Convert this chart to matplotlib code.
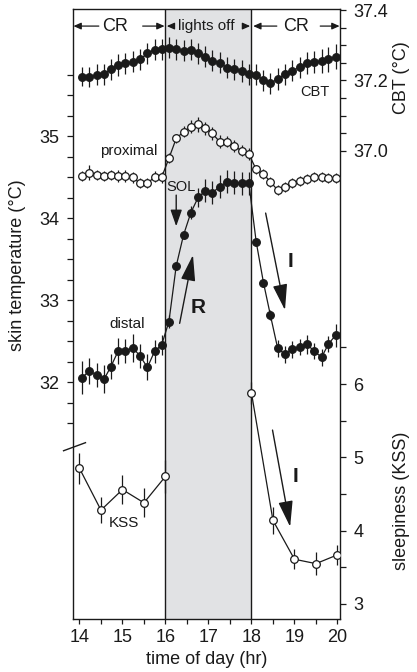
import matplotlib

matplotlib.use("Agg")

import matplotlib.pyplot as plt
from matplotlib.ticker import FixedLocator, NullFormatter

plt.rcParams["font.family"] = ["Liberation Sans", "DejaVu Sans"]

# 10-min bins (hr)
times = [14.06, 14.23, 14.40, 14.57, 14.73, 14.90, 15.07, 15.24, 15.41, 15.58,
         15.75, 15.91, 16.08, 16.25, 16.42, 16.59, 16.76, 16.93, 17.09, 17.26,
         17.43, 17.60, 17.77, 17.94, 18.11, 18.28, 18.44, 18.61, 18.78, 18.95,
         19.12, 19.29, 19.46, 19.63, 19.79, 19.96]

# core body temperature (°C)
cbt = [37.211, 37.209, 37.216, 37.218, 37.232, 37.244, 37.249, 37.253, 37.260, 37.277,
       37.287, 37.288, 37.293, 37.288, 37.285, 37.287, 37.277, 37.268, 37.256, 37.251,
       37.236, 37.232, 37.227, 37.218, 37.216, 37.201, 37.192, 37.204, 37.218, 37.228,
       37.237, 37.249, 37.253, 37.255, 37.260, 37.268]
cbt_err = [0.028, 0.028, 0.03, 0.03, 0.03, 0.03, 0.03, 0.03, 0.03, 0.03,
           0.03, 0.03, 0.03, 0.03, 0.03, 0.03, 0.03, 0.03, 0.03, 0.03,
           0.03, 0.03, 0.03, 0.03, 0.03, 0.03, 0.03, 0.03, 0.03, 0.03,
           0.03, 0.032, 0.032, 0.034, 0.035, 0.035]

# proximal skin temperature (°C)
proximal = [34.512, 34.553, 34.524, 34.512, 34.524, 34.512, 34.512, 34.496, 34.423, 34.423,
            34.504, 34.496, 34.728, 34.971, 35.053, 35.114, 35.142, 35.093, 35.033, 34.931,
            34.931, 34.878, 34.821, 34.780, 34.593, 34.537, 34.443, 34.341, 34.374, 34.423,
            34.455, 34.476, 34.496, 34.496, 34.484, 34.484]
proximal_err = [0.06, 0.09, 0.06, 0.06, 0.06, 0.07, 0.07, 0.07, 0.06, 0.06,
                0.07, 0.07, 0.06, 0.06, 0.07, 0.08, 0.09, 0.08, 0.08, 0.08,
                0.07, 0.07, 0.07, 0.07, 0.06, 0.06, 0.06, 0.06, 0.06, 0.06,
                0.06, 0.06, 0.06, 0.06, 0.06, 0.06]

# distal skin temperature (°C)
distal = [32.053, 32.138, 32.085, 32.033, 32.187, 32.378, 32.378, 32.418, 32.317, 32.179,
          32.378, 32.451, 32.736, 33.415, 33.793, 34.065, 34.252, 34.333, 34.309, 34.382,
          34.443, 34.431, 34.423, 34.423, 33.711, 33.211, 32.817, 32.411, 32.338, 32.399,
          32.430, 32.459, 32.378, 32.301, 32.463, 32.573]
distal_err = [0.2, 0.16, 0.15, 0.17, 0.15, 0.16, 0.15, 0.17, 0.15, 0.16,
              0.14, 0.12, 0.08, 0.05, 0.05, 0.08, 0.12, 0.14, 0.14, 0.14,
              0.14, 0.14, 0.14, 0.14, 0.05, 0.05, 0.06, 0.1, 0.1, 0.1,
              0.1, 0.12, 0.1, 0.1, 0.1, 0.14]

# Karolinska sleepiness scale, before and after lights off
kss_times_pre = [14.0, 14.5, 15.0, 15.5, 16.0]
kss_pre = [4.85, 4.28, 4.56, 4.38, 4.74]
kss_err_pre = [0.21, 0.18, 0.2, 0.2, 0.22]
kss_times_post = [18.0, 18.5, 19.0, 19.5, 20.0]
kss_post = [5.88, 4.14, 3.61, 3.55, 3.67]
kss_err_post = [0.15, 0.18, 0.14, 0.16, 0.14]

lights_off = (16.0, 18.0)

ink = "#1a1a1a"
fig = plt.figure(figsize=(4.17, 6.72), dpi=100)
ax = fig.add_axes([0.1751, 0.0789, 0.6403, 0.9077])
ax_cbt = ax.twinx()
ax_kss = ax.twinx()

ax.set_xlim(13.85, 20.06)
ax.set_ylim(29.11, 36.55)
ax_cbt.set_ylim(35.67, 37.403)
ax_kss.set_ylim(2.795, 11.116)

ax.axvspan(*lights_off, color="#e1e2e4", zorder=0, lw=0)
for x in lights_off:
    ax.axvline(x, color=ink, lw=1.0, zorder=1)

bar_kw = dict(color=ink, lw=0.9, elinewidth=0.9, capsize=0, ms=5.5, mew=0.9)
ax.errorbar(times, proximal, yerr=proximal_err, fmt="-o", mfc="white", mec=ink, zorder=3, **bar_kw)
ax.errorbar(times, distal, yerr=distal_err, fmt="-o", mfc=ink, mec=ink, zorder=3, **bar_kw)
ax_cbt.errorbar(times, cbt, yerr=cbt_err, fmt="-o", mfc=ink, mec=ink, zorder=3, **bar_kw)
ax_kss.errorbar(kss_times_pre, kss_pre, yerr=kss_err_pre, fmt="-o", mfc="white", mec=ink, zorder=3, **bar_kw)
ax_kss.errorbar(kss_times_post, kss_post, yerr=kss_err_post, fmt="-o", mfc="white", mec=ink, zorder=3, **bar_kw)

# axes, ticks
for a in (ax_cbt, ax_kss):
    for s in a.spines.values():
        s.set_visible(False)
for s in ax.spines.values():
    s.set_linewidth(1.0)
    s.set_color(ink)

ax.xaxis.set_major_locator(FixedLocator([14, 15, 16, 17, 18, 19, 20]))
ax.xaxis.set_minor_locator(FixedLocator([14.5, 15.5, 16.5, 17.5, 18.5, 19.5]))
ax.yaxis.set_major_locator(FixedLocator([32, 33, 34, 35]))
ax.yaxis.set_minor_locator(FixedLocator([31.5, 31.75, 32.25, 32.5, 32.75, 33.25, 33.5, 33.75,
                                         34.25, 34.5, 34.75, 35.25, 35.5, 35.75]))
ax_cbt.yaxis.set_major_locator(FixedLocator([37.0, 37.2, 37.4]))
ax_cbt.yaxis.set_minor_locator(FixedLocator([37.05, 37.1, 37.15, 37.25, 37.3, 37.35]))
ax_cbt.yaxis.set_major_formatter(plt.FuncFormatter(lambda v, p: f"{v:.1f}"))
ax_kss.yaxis.set_major_locator(FixedLocator([3, 4, 5, 6]))
ax_kss.yaxis.set_minor_locator(FixedLocator([3.5, 4.5, 5.5, 6.5]))
for a in (ax, ax_cbt, ax_kss):
    a.yaxis.set_minor_formatter(NullFormatter())
    a.tick_params(which="both", direction="out", width=0.9, color=ink, labelcolor=ink, labelsize=13)
    a.tick_params(axis="y", which="both", length=4.5, pad=5)
ax.tick_params(axis="x", which="both", length=3.5, pad=4)
ax_cbt.yaxis.set_ticks_position("right")
ax_kss.yaxis.set_ticks_position("right")

ax.set_xlabel("time of day (hr)", fontsize=13, color=ink, labelpad=3)
ax.set_ylabel("skin temperature (°C)", fontsize=13, color=ink)
ax.yaxis.set_label_coords(-0.175, 0.58)
ax_cbt.set_ylabel("CBT (°C)", fontsize=13, color=ink)
ax_cbt.yaxis.set_label_coords(1.2, 0.887)
ax_kss.set_ylabel("sleepiness (KSS)", fontsize=13, color=ink)
ax_kss.yaxis.set_label_coords(1.2, 0.193)

# condition bar at the top
trans = ax.get_xaxis_transform()
yf = 0.972
small = dict(arrowstyle="-|>,head_length=0.45,head_width=0.2", color=ink, lw=0.9, shrinkA=0, shrinkB=0)
for x0, x1 in [(14.45, 13.86), (15.47, 15.98), (16.18, 16.03), (17.81, 17.97), (18.59, 18.04), (19.6, 20.05)]:
    ax.annotate("", xy=(x1, yf), xytext=(x0, yf), xycoords=trans, textcoords=trans, arrowprops=small)
ax.text(14.83, yf, "CR", transform=trans, ha="center", va="center", fontsize=13, color=ink)
ax.text(19.03, yf, "CR", transform=trans, ha="center", va="center", fontsize=13, color=ink)
ax.text(16.95, yf, "lights off", transform=trans, ha="center", va="center", fontsize=11, color=ink)

# series labels
ax_cbt.text(19.48, 37.167, "CBT", ha="center", va="center", fontsize=10.5, color=ink)
ax.text(15.14, 34.817, "proximal", ha="center", va="center", fontsize=11, color=ink)
ax.text(15.12, 32.707, "distal", ha="center", va="center", fontsize=11, color=ink)
ax.text(16.37, 34.378, "SOL", ha="center", va="center", fontsize=10.5, color=ink)
ax_kss.text(15.04, 4.10, "KSS", ha="center", va="center", fontsize=11, color=ink)

big = dict(arrowstyle="-|>,head_length=1.6,head_width=0.45", color=ink, lw=1.0, shrinkA=0, shrinkB=0)
ax.annotate("", xy=(16.25, 33.90), xytext=(16.25, 34.28),
            arrowprops=dict(arrowstyle="-|>,head_length=1.0,head_width=0.35", color=ink, lw=1.0,
                            shrinkA=0, shrinkB=0))
ax.annotate("", xy=(16.64, 33.549), xytext=(16.33, 32.716), arrowprops=big)
ax.text(16.76, 32.915, "R", ha="center", va="center", fontsize=15, fontweight="bold", color=ink)
ax.annotate("", xy=(18.78, 32.878), xytext=(18.33, 34.061), arrowprops=big)
ax.text(18.90, 33.467, "I", ha="center", va="center", fontsize=15, fontweight="bold", color=ink)
ax_kss.annotate("", xy=(18.90, 4.053), xytext=(18.49, 5.372), arrowprops=big)
ax_kss.text(19.02, 4.735, "I", ha="center", va="center", fontsize=15, fontweight="bold", color=ink)

# axis break mark on the left spine
ax_kss.plot([13.63, 14.14], [5.09, 5.20], color=ink, lw=1.0, clip_on=False)

fig.savefig("out.png", dpi=100)
